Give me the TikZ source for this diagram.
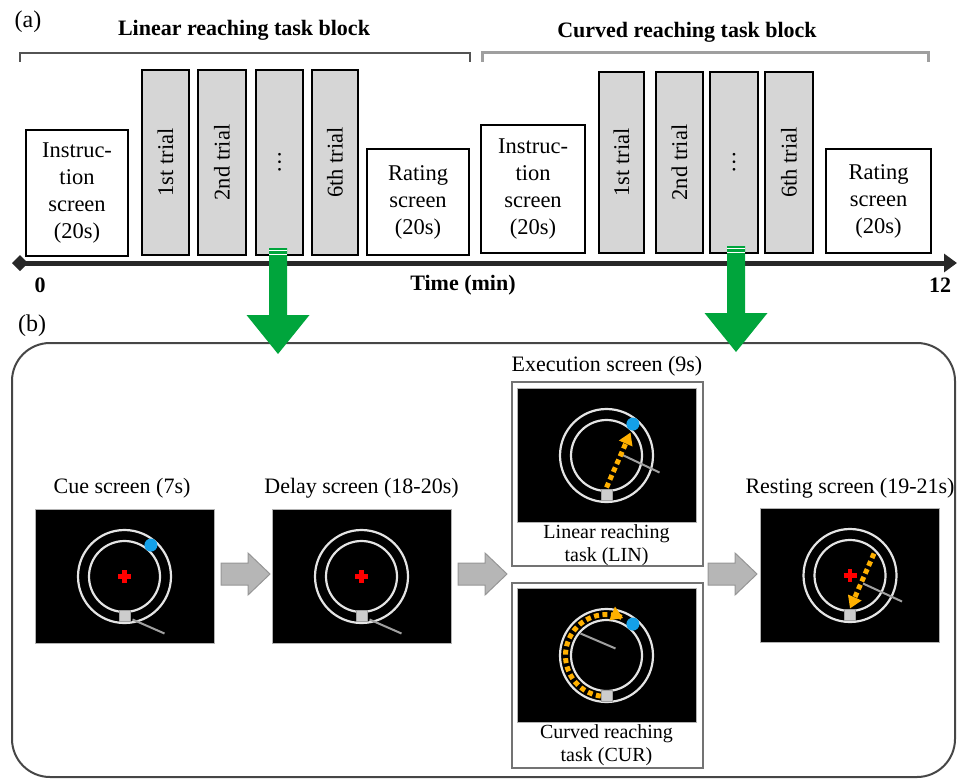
\documentclass[tikz,border=0pt]{standalone}
\usepackage{fontspec}
\usepackage{graphicx}
\setmainfont{Liberation Serif}
\usetikzlibrary{arrows.meta}

\definecolor{trialgray}{RGB}{214,214,214}
\definecolor{arrowgreen}{RGB}{0,165,60}
\definecolor{blockgray}{RGB}{182,182,182}
\definecolor{blockedge}{RGB}{150,150,150}
\definecolor{ringwhite}{RGB}{228,228,228}
\definecolor{cursorgray}{RGB}{205,205,205}
\definecolor{targetblue}{RGB}{20,160,232}
\definecolor{pathorange}{RGB}{255,176,0}
\definecolor{handgray}{RGB}{160,160,160}
\definecolor{axisdark}{RGB}{40,40,40}

\tikzset{
  ring/.style={draw=ringwhite, line width=2.2pt},
  handline/.style={draw=handgray, line width=2pt},
  reachpath/.style={draw=pathorange, line width=5pt, dash pattern=on 5pt off 3.5pt,
    -{Triangle[length=12pt,width=14pt]}},
  % block arrow between the screens of a trial
  blockarrow/.pic={
    \draw[fill=blockgray, draw=blockedge, line width=1pt]
      (0,-11) -- (27,-11) -- (27,-21) -- (49,0) -- (27,21) -- (27,11) -- (0,11) -- cycle;
  },
  % green arrow from a trial down to its detail panel
  greenarrow/.pic={
    \fill[arrowgreen] (-9,0) -- (9,0) -- (9,67) -- (31.5,67) -- (0,106) -- (-31.5,67) -- (-9,67) -- cycle;
    \draw[white, line width=1.2pt] (-9,2.5) -- (9,2.5) (-9,6.5) -- (9,6.5);
  },
  ringpair/.pic={
    \draw[ring] (0,0) circle[radius=46.5];
    \draw[ring] (0,0) circle[radius=35.5];
  },
  redcross/.pic={
    \draw[red, line width=4.3pt] (-6.5,0) -- (6.5,0) (0,-6.5) -- (0,6.5);
  },
  cursorsq/.pic={
    \draw[fill=cursorgray, draw=handgray, line width=0.8pt] (-5.5,-5.5) rectangle (5.5,5.5);
  },
  targetdot/.pic={
    \fill[targetblue] (0,0) circle[radius=6.5];
  },
}

\begin{document}
\begin{tikzpicture}[x=1pt,y=-1pt,
  box/.style={draw=black, line width=1.6pt, fill=white, inner sep=0pt, align=center,
    font=\fontsize{22.5}{27}\selectfont},
  trialbox/.style={box, fill=trialgray},
  blocktitle/.style={font=\bfseries\fontsize{22}{26}\selectfont, inner sep=0pt},
  axislabel/.style={font=\bfseries\fontsize{22}{26}\selectfont, inner sep=0pt},
  panellabel/.style={font=\fontsize{24}{28}\selectfont, inner sep=0pt},
  screentitle/.style={font=\fontsize{22}{26}\selectfont, inner sep=0pt},
  screen/.style={fill=black, draw=gray!60, line width=0.8pt, minimum width=179pt,
    minimum height=134pt, inner sep=0pt},
  execframe/.style={draw=gray!90!black, line width=1.5pt, minimum width=191pt, inner sep=0pt},
  sublabel/.style={font=\fontsize{20}{23}\selectfont, align=center, inner sep=0pt},
]
\useasboundingbox (0,0) rectangle (957,778);

% ---------------- (a) session timeline ----------------
\node[panellabel] (labA) at (28,22) {(a)};
\node[blocktitle] (titleLin) at (244,30) {Linear reaching task block};
\node[blocktitle] (titleCur) at (687,32) {Curved reaching task block};
\draw[draw=gray!65!black, line width=2.5pt] (20,62) -- (20,53) -- (470,53) -- (470,62);
\draw[draw=gray!75, line width=3pt] (482,62) -- (482,53) -- (928,53) -- (928,62);

% linear block
\node[box, minimum width=102pt, minimum height=126pt] (instr1) at (77,193) {Instruc-\\tion\\screen\\(20s)};
\node[trialbox, minimum width=47pt, minimum height=185pt] (trA1) at (165.5,162.5) {\rotatebox{90}{1st trial}};
\node[trialbox, minimum width=48pt, minimum height=185pt] (trA2) at (222,162.5) {\rotatebox{90}{2nd trial}};
\node[trialbox, minimum width=47pt, minimum height=185pt] (trAd) at (279.5,162.5) {\rotatebox{90}{\ldots}};
\node[trialbox, minimum width=46pt, minimum height=185pt] (trA6) at (335,162.5) {\rotatebox{90}{6th trial}};
\node[box, minimum width=102pt, minimum height=106pt] (rate1) at (418,202) {Rating\\screen\\(20s)};

% curved block
\node[box, minimum width=104pt, minimum height=128pt] (instr2) at (533,189) {Instruc-\\tion\\screen\\(20s)};
\node[trialbox, minimum width=45pt, minimum height=181pt] (trB1) at (621.5,162.5) {\rotatebox{90}{1st trial}};
\node[trialbox, minimum width=47pt, minimum height=181pt] (trB2) at (679.5,162.5) {\rotatebox{90}{2nd trial}};
\node[trialbox, minimum width=48pt, minimum height=181pt] (trBd) at (734,162.5) {\rotatebox{90}{\ldots}};
\node[trialbox, minimum width=48pt, minimum height=181pt] (trB6) at (789,162.5) {\rotatebox{90}{6th trial}};
\node[box, minimum width=105pt, minimum height=104pt] (rate2) at (878.5,201) {Rating\\screen\\(20s)};

% time axis
\coordinate (t0) at (20,263);
\coordinate (t1) at (957,263);
\draw[axisdark, line width=5pt, -{Triangle[length=13pt,width=18pt]}] (t0) -- (t1);
\fill[axisdark] (t0) ++(-8,0) -- ++(8,-8) -- ++(8,8) -- ++(-8,8) -- cycle;
\node[axislabel] (zero) at (40,285.5) {0};
\node[axislabel] (timelab) at (463,285.5) {Time (min)};
\node[axislabel] (twelve) at (940,285.5) {12};

% ---------------- (b) single trial ----------------
\node[panellabel] (labB) at (32,326) {(b)};
\draw[draw=gray!55!black, line width=2pt, rounded corners=38pt] (12,343) rectangle (955,777);

\pic at (278,248) {greenarrow};
\pic at (736,246) {greenarrow};

\node[screentitle] (cueT) at (122,488) {Cue screen (7s)};
\node[screentitle] (delayT) at (361.5,488) {Delay screen (18-20s)};
\node[screentitle] (execT) at (607,366) {Execution screen (9s)};
\node[screentitle] (restT) at (850,488) {Resting screen (19-21s)};

\node[screen] (cue) at (124.5,576.5) {};
\node[screen] (delay) at (361.5,576.5) {};
\node[screen] (rest) at (850,575.5) {};
\node[execframe, minimum height=184pt] (linframe) at (607.5,474) {};
\node[screen] (lin) at (606.5,455.5) {};
\node[execframe, minimum height=185pt] (curframe) at (607.5,675.5) {};
\node[screen] (cur) at (606.5,655.5) {};
\node[sublabel] (linL) at (606.5,545) {Linear reaching\\task (LIN)};
\node[sublabel] (curL) at (606.5,745) {Curved reaching\\task (CUR)};

% cue screen
\begin{scope}[shift={(cue.center)}]
  \pic at (0,0) {ringpair};
  \draw[handline] (8,43) -- (40,57);
  \pic at (0,39) {cursorsq};
  \pic at (26.4,-31.4) {targetdot};
  \pic at (0,0) {redcross};
\end{scope}

% delay screen
\begin{scope}[shift={(delay.center)}]
  \pic at (0,0) {ringpair};
  \draw[handline] (8,43) -- (40,57);
  \pic at (0,39) {cursorsq};
  \pic at (0,0) {redcross};
\end{scope}

% linear reaching
\begin{scope}[shift={(lin.center)}]
  \pic at (0,0) {ringpair};
  \draw[handline] (15,-1) -- (53,17);
  \draw[reachpath] (0,32) -- (24,-23);
  \pic at (0,39) {cursorsq};
  \pic at (26.4,-31.4) {targetdot};
\end{scope}

% curved reaching
\begin{scope}[shift={(cur.center)}]
  \pic at (0,0) {ringpair};
  \draw[handline] (-26,-22) -- (9,-7);
  \draw[reachpath] plot[domain=262:66, samples=80] ({41*cos(\x)},{-41*sin(\x)});
  \pic at (0,40) {cursorsq};
  \pic at (26.4,-31.4) {targetdot};
\end{scope}

% resting screen
\begin{scope}[shift={(rest.center)}]
  \pic at (0,0) {ringpair};
  \draw[handline] (13,8) -- (52,26);
  \draw[reachpath] (24,-22) -- (0,33);
  \pic at (0,39) {cursorsq};
  \pic at (0,0) {redcross};
\end{scope}

% flow between screens
\pic at (221,574) {blockarrow};
\pic at (458,574) {blockarrow};
\pic at (708,574) {blockarrow};

\end{tikzpicture}
\end{document}
